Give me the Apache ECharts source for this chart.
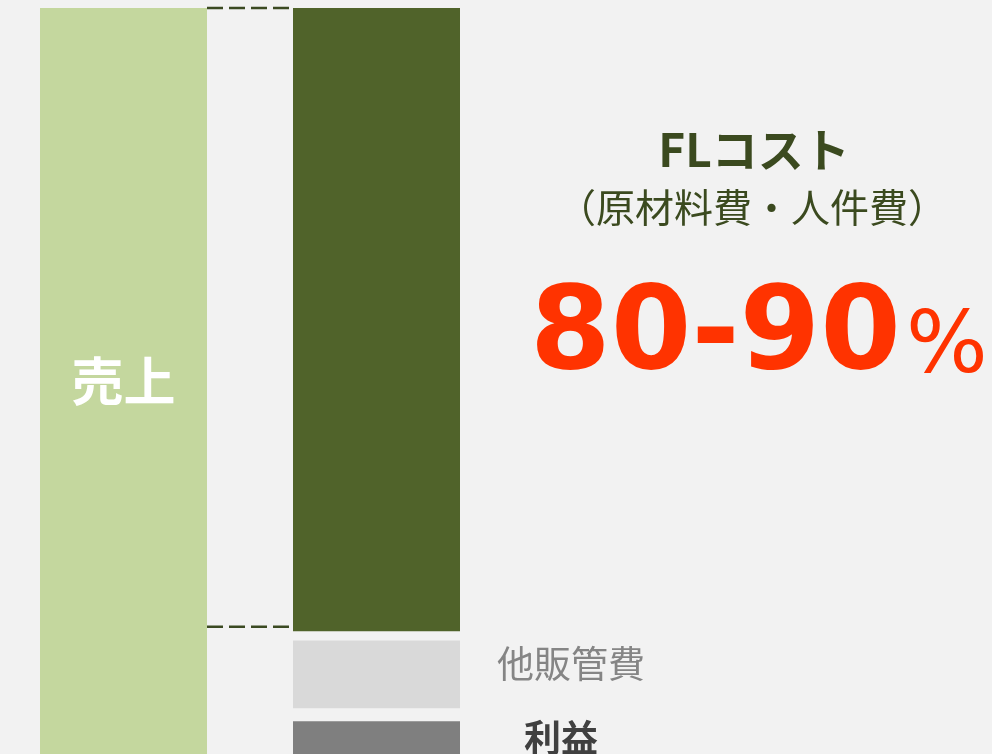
<!DOCTYPE html>
<html>
<head>
<meta charset="utf-8">
<script src="https://cdn.jsdelivr.net/npm/echarts@6/dist/echarts.min.js"></script>
<style>
html,body{margin:0;padding:0;background:#f2f2f2;}
#chart{width:992px;height:754px;}
</style>
</head>
<body>
<div id="chart"></div>
<script>
// ---- data ----
var categories = ['売上', 'コスト'];
var salesValues = [100, '-'];
var profitValues = ['-', 6.4];      // 利益
var gapLowValues = ['-', 1.7];      // spacer
var sgaValues = ['-', 8.9];         // 他販管費
var gapHighValues = ['-', 1.2];     // spacer
var flValues = ['-', 81.8];         // FLコスト
var dashLevels = [100, 18.8];
var visibleMin = 2.1;               // the picture is cropped at the bottom
var flTitle = 'FLコスト';
var flSub = '（原材料費・人件費）';
var flRatio = '80-90';
var flUnit = '%';

var FONT = '"Noto Sans CJK JP", "Noto Sans", sans-serif';
var BW = 167;

var chart = echarts.init(document.getElementById('chart'));
var option = {
  backgroundColor: '#f2f2f2',
  animation: false,
  grid: {left: 123.5, width: 253, top: 8, bottom: 0, containLabel: false},
  xAxis: {type: 'category', data: categories, show: false, boundaryGap: false},
  yAxis: {type: 'value', min: visibleMin, max: 100, show: false},
  series: [
    {name: '売上', type: 'bar', data: salesValues, barWidth: BW, barGap: '-100%',
     itemStyle: {color: '#c4d79e'},
     label: {show: true, position: 'inside', formatter: '売上', color: '#ffffff',
             fontFamily: FONT, fontWeight: 'bold', fontSize: 52, offset: [0, 0]}},
    {name: '利益', type: 'bar', stack: 'c', data: profitValues, barWidth: BW,
     itemStyle: {color: '#7f7f7f'},
     label: {show: true, position: 'right', formatter: '利益', color: '#404040', distance: 64,
             fontFamily: FONT, fontWeight: 'bold', fontSize: 37, offset: [0, 0]}},
    {name: 'gap1', type: 'bar', stack: 'c', data: gapLowValues, barWidth: BW,
     itemStyle: {color: 'rgba(0,0,0,0)'}},
    {name: '他販管費', type: 'bar', stack: 'c', data: sgaValues, barWidth: BW,
     itemStyle: {color: '#d9d9d9'},
     label: {show: true, position: 'right', formatter: '他販管費', color: '#858585', distance: 37,
             fontFamily: FONT, fontSize: 37, offset: [0, -10]}},
    {name: 'gap2', type: 'bar', stack: 'c', data: gapHighValues, barWidth: BW,
     itemStyle: {color: 'rgba(0,0,0,0)'}},
    {name: 'FLコスト', type: 'bar', stack: 'c', data: flValues, barWidth: BW,
     itemStyle: {color: '#50632a'}}
  ]
};
chart.setOption(option);

var c0 = chart.convertToPixel({xAxisIndex: 0}, categories[0]);
var c1 = chart.convertToPixel({xAxisIndex: 0}, categories[1]);
var graphics = [];
dashLevels.forEach(function (v) {
  var y = chart.convertToPixel({yAxisIndex: 0}, v);
  graphics.push({type: 'line', silent: true,
    shape: {x1: c0 + BW / 2, y1: y, x2: c1 - BW / 2 - 4, y2: y},
    style: {stroke: '#3b4a22', lineWidth: 2.5, lineDash: [16, 6]}});
});
graphics.push({type: 'text', x: 754, y: 150, style: {text: flTitle, fill: '#3b4a1f',
  font: 'bold 46px ' + FONT, textAlign: 'center', textVerticalAlign: 'middle'}});
graphics.push({type: 'text', x: 752, y: 207, style: {text: flSub, fill: '#3b4a1f',
  font: '39px ' + FONT, textAlign: 'center', textVerticalAlign: 'middle'}});
graphics.push({type: 'text', x: 901, y: 338, style: {text: flRatio, fill: '#ff3300',
  font: 'bold 116px "DejaVu Sans", sans-serif', textAlign: 'right', textVerticalAlign: 'middle'}});
graphics.push({type: 'text', x: 906, y: 350, style: {text: flUnit, fill: '#ff3300',
  font: '86px "DejaVu Sans", sans-serif', textAlign: 'left', textVerticalAlign: 'middle'}});
chart.setOption({graphic: graphics});
</script>
</body>
</html>
